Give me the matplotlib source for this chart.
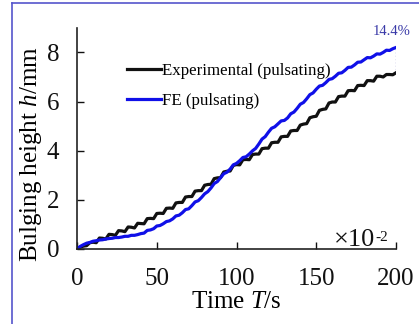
import matplotlib
matplotlib.use("Agg")
import matplotlib.pyplot as plt
import numpy as np
from matplotlib.lines import Line2D

plt.rcParams["font.family"] = ["Liberation Serif", "DejaVu Serif"]
plt.rcParams["mathtext.fontset"] = "custom"
plt.rcParams["mathtext.rm"] = "Liberation Serif"
plt.rcParams["mathtext.it"] = "Liberation Serif:italic"

# time samples (s)
time_s = np.arange(0, 201, 2)

# measured bulging height (mm), pulsating loading
exp_h = [
    0.00, 0.07, 0.11, 0.13, 0.25, 0.27, 0.25, 0.44, 0.43, 0.40,
    0.59, 0.58, 0.55, 0.74, 0.73, 0.70, 0.89, 0.88, 0.85, 1.04,
    1.03, 1.02, 1.23, 1.24, 1.23, 1.44, 1.45, 1.44, 1.65, 1.66,
    1.65, 1.87, 1.89, 1.89, 2.11, 2.13, 2.13, 2.35, 2.37, 2.37,
    2.59, 2.62, 2.63, 2.86, 2.89, 2.90, 3.13, 3.16, 3.17, 3.40,
    3.43, 3.42, 3.63, 3.64, 3.63, 3.84, 3.86, 3.86, 4.08, 4.10,
    4.10, 4.32, 4.34, 4.34, 4.56, 4.58, 4.58, 4.80, 4.82, 4.82,
    5.04, 5.08, 5.10, 5.34, 5.38, 5.40, 5.64, 5.68, 5.70, 5.94,
    5.98, 5.98, 6.20, 6.22, 6.22, 6.44, 6.45, 6.44, 6.65, 6.66,
    6.65, 6.85, 6.85, 6.83, 7.03, 7.03, 7.00, 7.10, 7.10, 7.09,
    7.17,
]

# finite element prediction (mm)
fe_h = [
    0.00, 0.10, 0.17, 0.23, 0.26, 0.31, 0.33, 0.36, 0.37, 0.40,
    0.42, 0.43, 0.46, 0.46, 0.48, 0.51, 0.51, 0.55, 0.55, 0.58,
    0.62, 0.64, 0.75, 0.77, 0.82, 0.93, 0.95, 1.02, 1.11, 1.14,
    1.22, 1.34, 1.37, 1.47, 1.60, 1.63, 1.76, 1.91, 1.96, 2.09,
    2.24, 2.33, 2.48, 2.66, 2.74, 2.90, 3.06, 3.12, 3.25, 3.42,
    3.48, 3.59, 3.72, 3.75, 3.86, 3.99, 4.09, 4.27, 4.47, 4.57,
    4.75, 4.91, 4.97, 5.09, 5.21, 5.23, 5.33, 5.50, 5.57, 5.72,
    5.89, 5.96, 6.11, 6.28, 6.35, 6.50, 6.63, 6.66, 6.77, 6.90,
    6.93, 7.03, 7.15, 7.17, 7.27, 7.39, 7.40, 7.49, 7.60, 7.61,
    7.70, 7.79, 7.78, 7.85, 7.94, 7.93, 8.00, 8.09, 8.08, 8.15,
    8.20,
]

x_ticks = [0, 50, 100, 150, 200]
y_ticks = [0, 2, 4, 6, 8]
gap_label = "14.4%"

fig = plt.figure(figsize=(4.19, 3.24), dpi=100)
ax = fig.add_axes([0.184, 0.232, 0.761, 0.682])

ax.plot(time_s, exp_h, color="#111111", lw=2.3, label="Experimental (pulsating)")
ax.plot(time_s, fe_h, color="#1010e8", lw=2.3, label="FE (pulsating)")

# gap between the two curves at the end of the test
ax.plot([time_s[-1], time_s[-1]], [exp_h[-1], fe_h[-1]], color="#4444aa", lw=0.9, ls=":")
ax.text(197.5, 8.85, gap_label, color="#3a3aa8", fontsize=10.5, ha="center", va="center")

ax.set_xlim(0, 200)
ax.set_ylim(0, 9)
ax.set_xticks(x_ticks)
ax.set_yticks(y_ticks)
for side in ("top", "right"):
    ax.spines[side].set_visible(False)
for side in ("left", "bottom"):
    ax.spines[side].set_linewidth(1.2)
    ax.spines[side].set_color("#222222")
ax.tick_params(axis="both", direction="in", length=5, width=1.0, labelsize=18, colors="#111111")
ax.tick_params(axis="x", pad=14)
ax.tick_params(axis="y", pad=13)

ax.set_xlabel("Time $T$/s", fontsize=18)
ax.xaxis.set_label_coords(0.5, -0.19)
ax.set_ylabel("Bulging height $h$/mm", fontsize=18)
ax.yaxis.set_label_coords(-0.104, 0.43)

mult = ax.text(0.805, 0.012, "\u00d710", transform=ax.transAxes, fontsize=19,
               ha="left", va="baseline", color="#111111")
ax.annotate("-2", xy=(1.0, 0.93), xycoords=mult, fontsize=11, ha="left", va="top",
            color="#111111")

ax.legend(loc="upper left", bbox_to_anchor=(0.157, 0.842), frameon=False, fontsize=12.2,
          handlelength=2.0, handletextpad=0.05, labelspacing=0.85, borderpad=0,
          borderaxespad=0)

# thin blue frame of the original figure (left and top edges)
fig.add_artist(Line2D([0.0286, 0.0286], [0.0, 0.9907], transform=fig.transFigure,
                      color="#5555cc", lw=1.2))
fig.add_artist(Line2D([0.0286, 1.0], [0.9907, 0.9907], transform=fig.transFigure,
                      color="#5555cc", lw=1.2))

fig.savefig("out.png", dpi=100)
